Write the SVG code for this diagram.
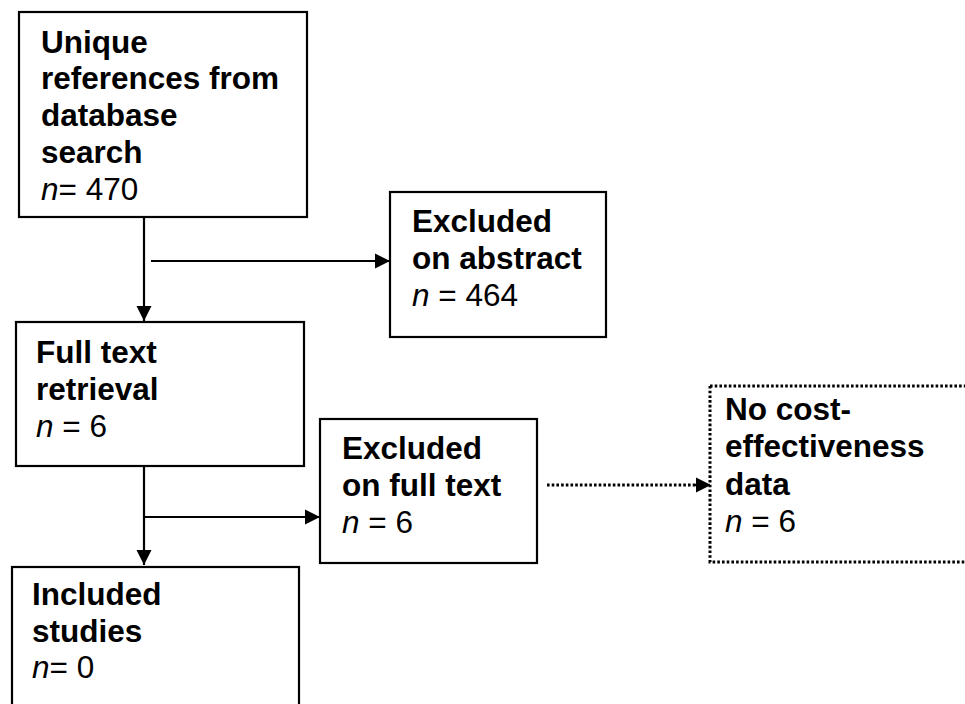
<svg xmlns="http://www.w3.org/2000/svg" width="965" height="704" viewBox="0 0 965 704">
  <style>
    .box { fill: #ffffff; stroke: #000000; stroke-width: 2.2; }
    .dotbox { fill: #ffffff; stroke: #000000; stroke-width: 3; stroke-dasharray: 2.6 2.1; }
    .conn { fill: none; stroke: #000000; stroke-width: 2.2; }
    .dotconn { fill: none; stroke: #000000; stroke-width: 3; stroke-dasharray: 2.6 2.1; }
    .t { font-family: "Liberation Sans", Arial, sans-serif; font-size: 31.5px; fill: #000000; }
    .b { font-weight: bold; }
    .i { font-style: italic; }
  </style>
  <defs>
    <marker id="arrow" markerUnits="userSpaceOnUse" markerWidth="16" markerHeight="16" refX="15" refY="8" orient="auto">
      <path d="M0,0.5 L15,8 L0,15.5 Z" fill="#000000"/>
    </marker>
  </defs>

  <g id="connectors">
    <line class="conn" x1="144" y1="217" x2="144" y2="321" marker-end="url(#arrow)"/>
    <line class="conn" x1="151" y1="261" x2="390" y2="261" marker-end="url(#arrow)"/>
    <line class="conn" x1="144" y1="466" x2="144" y2="565" marker-end="url(#arrow)"/>
    <line class="conn" x1="144" y1="517" x2="320" y2="517" marker-end="url(#arrow)"/>
    <line class="dotconn" x1="547" y1="485" x2="697" y2="485"/>
    <line class="conn" x1="694" y1="485" x2="711" y2="485" marker-end="url(#arrow)"/>
  </g>

  <g id="unique-references">
    <rect class="box" x="19" y="12" width="288" height="205"/>
    <text class="t b" x="41" y="53">Unique</text>
    <text class="t b" x="41" y="89">references from</text>
    <text class="t b" x="41" y="126">database</text>
    <text class="t b" x="41" y="163">search</text>
    <text class="t" x="41" y="200"><tspan class="i">n</tspan>= 470</text>
  </g>

  <g id="excluded-abstract">
    <rect class="box" x="390" y="192" width="216" height="145"/>
    <text class="t b" x="412" y="232">Excluded</text>
    <text class="t b" x="412" y="269">on abstract</text>
    <text class="t" x="412" y="306"><tspan class="i">n</tspan> = 464</text>
  </g>

  <g id="full-text-retrieval">
    <rect class="box" x="16" y="322" width="288" height="144"/>
    <text class="t b" x="36" y="363">Full text</text>
    <text class="t b" x="36" y="400">retrieval</text>
    <text class="t" x="36" y="437"><tspan class="i">n</tspan> = 6</text>
  </g>

  <g id="excluded-full-text">
    <rect class="box" x="320" y="419" width="217" height="144"/>
    <text class="t b" x="342" y="459">Excluded</text>
    <text class="t b" x="342" y="496">on full text</text>
    <text class="t" x="342" y="533"><tspan class="i">n</tspan> = 6</text>
  </g>

  <g id="no-cost-effectiveness">
    <rect class="dotbox" x="710" y="386" width="300" height="176"/>
    <text class="t b" x="725" y="420">No cost-</text>
    <text class="t b" x="725" y="457">effectiveness</text>
    <text class="t b" x="725" y="495">data</text>
    <text class="t" x="725" y="532"><tspan class="i">n</tspan> = 6</text>
  </g>

  <g id="included-studies">
    <rect class="box" x="12" y="567" width="287" height="170"/>
    <text class="t b" x="32" y="605">Included</text>
    <text class="t b" x="32" y="642">studies</text>
    <text class="t" x="32" y="678"><tspan class="i">n</tspan>= 0</text>
  </g>
</svg>
